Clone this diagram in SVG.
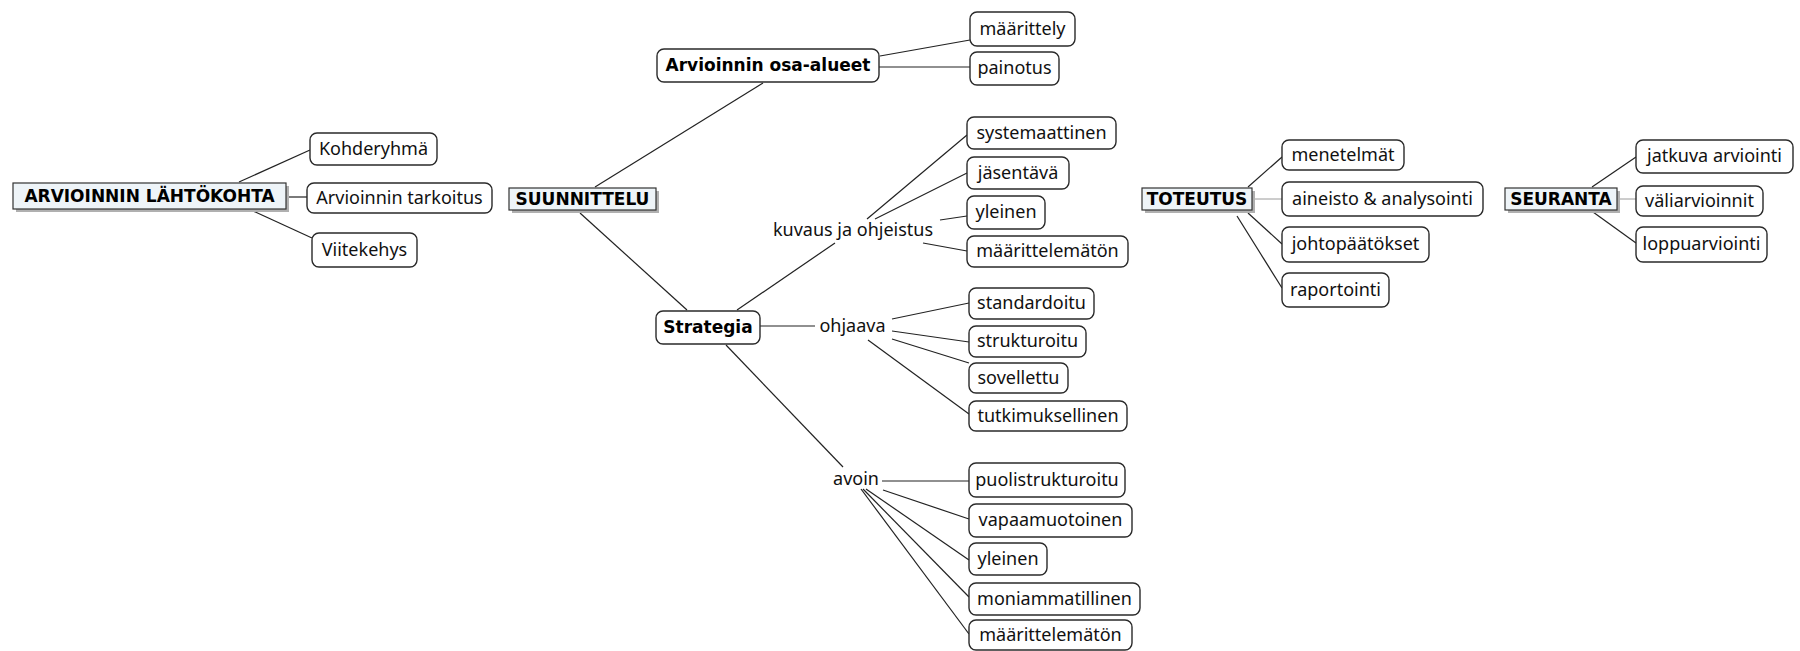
<svg xmlns="http://www.w3.org/2000/svg" width="1800" height="651" viewBox="0 0 1800 651">
<style>
.bg{fill:#ffffff}
.hd{fill:#eef4f8;stroke:#333333;stroke-width:1.2}
.sh{fill:#b0b0b0}
.bx{fill:#ffffff;stroke:#2a2a2a;stroke-width:1.4}
.ht{font-family:"DejaVu Sans",Verdana,sans-serif;font-weight:bold;font-size:17px;fill:#000000;text-anchor:middle}
.bt{font-family:"DejaVu Sans",Verdana,sans-serif;font-weight:bold;font-size:17px;fill:#000000;text-anchor:middle}
.lt{font-family:"Noto Sans","DejaVu Sans",sans-serif;font-size:18px;fill:#111111;text-anchor:middle}
.cn line{stroke:#222222;stroke-width:1.2}
.cn line.g{stroke:#9a9a9a;stroke-width:1}
</style>
<rect class="bg" x="0" y="0" width="1800" height="651"/>
<g id="connectors" class="cn">
<line x1="239" y1="182" x2="310" y2="150"/>
<line x1="286" y1="197" x2="307" y2="197"/>
<line x1="253" y1="211" x2="312" y2="238"/>
<line x1="595" y1="187" x2="763" y2="83"/>
<line x1="580" y1="213" x2="687" y2="310"/>
<line x1="880" y1="56" x2="970" y2="40"/>
<line x1="879" y1="67" x2="970" y2="67"/>
<line x1="737" y1="310" x2="835" y2="243"/>
<line x1="867" y1="219" x2="967" y2="135"/>
<line x1="875" y1="219" x2="967" y2="173"/>
<line x1="940" y1="220" x2="967" y2="216"/>
<line x1="923" y1="243" x2="967" y2="251"/>
<line x1="760" y1="326" x2="815" y2="326"/>
<line x1="892" y1="319" x2="969" y2="303"/>
<line x1="892" y1="331" x2="969" y2="342"/>
<line x1="892" y1="339" x2="969" y2="363"/>
<line x1="868" y1="340" x2="969" y2="414"/>
<line x1="726" y1="345" x2="843" y2="467"/>
<line x1="882" y1="481" x2="969" y2="481"/>
<line x1="883" y1="490" x2="969" y2="519"/>
<line x1="866" y1="489" x2="969" y2="560"/>
<line x1="863" y1="489" x2="969" y2="597"/>
<line x1="861" y1="489" x2="969" y2="634"/>
<line x1="1248" y1="187" x2="1282" y2="157"/>
<line class="g" x1="1255" y1="199" x2="1282" y2="199"/>
<line x1="1248" y1="213" x2="1282" y2="244"/>
<line x1="1237" y1="216" x2="1282" y2="288"/>
<line x1="1592" y1="187" x2="1636" y2="157"/>
<line class="g" x1="1620" y1="199" x2="1636" y2="199"/>
<line x1="1593" y1="212" x2="1636" y2="243"/>
</g>
<g id="arvioinnin-lahtokohta">
<rect class="sh" x="16" y="186" width="273" height="26"/>
<rect class="hd" x="13" y="183" width="273" height="26"/>
<text class="ht" x="149.5" y="202">ARVIOINNIN LÄHTÖKOHTA</text>
</g>
<g id="kohderyhma"><rect class="bx" x="310" y="133" width="127" height="32" rx="7"/><text class="lt" x="373.5" y="155">Kohderyhmä</text></g>
<g id="arvioinnin-tarkoitus"><rect class="bx" x="307" y="183" width="185" height="30" rx="7"/><text class="lt" x="399.5" y="204">Arvioinnin tarkoitus</text></g>
<g id="viitekehys"><rect class="bx" x="312" y="233" width="105" height="34" rx="7"/><text class="lt" x="364.5" y="256">Viitekehys</text></g>
<g id="suunnittelu">
<rect class="sh" x="512" y="191" width="147" height="22"/>
<rect class="hd" x="509" y="188" width="147" height="22"/>
<text class="ht" x="582.5" y="205">SUUNNITTELU</text>
</g>
<g id="arvioinnin-osa-alueet"><rect class="bx" x="657" y="49" width="222" height="33" rx="7"/><text class="bt" x="768" y="71">Arvioinnin osa-alueet</text></g>
<g id="maarittely"><rect class="bx" x="970" y="12" width="105" height="34" rx="7"/><text class="lt" x="1022.5" y="35">määrittely</text></g>
<g id="painotus"><rect class="bx" x="970" y="52" width="89" height="33" rx="7"/><text class="lt" x="1014.5" y="74">painotus</text></g>
<g id="strategia"><rect class="bx" x="656" y="311" width="104" height="33" rx="7"/><text class="bt" x="708" y="333">Strategia</text></g>
<g id="kuvaus-ja-ohjeistus"><text class="lt" x="853" y="236">kuvaus ja ohjeistus</text></g>
<g id="systemaattinen"><rect class="bx" x="967" y="117" width="149" height="32" rx="7"/><text class="lt" x="1041.5" y="139">systemaattinen</text></g>
<g id="jasentava"><rect class="bx" x="967" y="157" width="102" height="32" rx="7"/><text class="lt" x="1018" y="179">jäsentävä</text></g>
<g id="yleinen-1"><rect class="bx" x="967" y="196" width="78" height="33" rx="7"/><text class="lt" x="1006" y="218">yleinen</text></g>
<g id="maarittelematon-1"><rect class="bx" x="967" y="236" width="161" height="31" rx="7"/><text class="lt" x="1047.5" y="257">määrittelemätön</text></g>
<g id="ohjaava"><text class="lt" x="852.5" y="332">ohjaava</text></g>
<g id="standardoitu"><rect class="bx" x="969" y="288" width="125" height="31" rx="7"/><text class="lt" x="1031.5" y="309">standardoitu</text></g>
<g id="strukturoitu"><rect class="bx" x="969" y="326" width="117" height="31" rx="7"/><text class="lt" x="1027.5" y="347">strukturoitu</text></g>
<g id="sovellettu"><rect class="bx" x="969" y="363" width="99" height="30" rx="7"/><text class="lt" x="1018.5" y="384">sovellettu</text></g>
<g id="tutkimuksellinen"><rect class="bx" x="969" y="401" width="158" height="30" rx="7"/><text class="lt" x="1048" y="422">tutkimuksellinen</text></g>
<g id="avoin"><text class="lt" x="856" y="485">avoin</text></g>
<g id="puolistrukturoitu"><rect class="bx" x="969" y="463" width="156" height="34" rx="7"/><text class="lt" x="1047" y="486">puolistrukturoitu</text></g>
<g id="vapaamuotoinen"><rect class="bx" x="969" y="504" width="163" height="33" rx="7"/><text class="lt" x="1050.5" y="526">vapaamuotoinen</text></g>
<g id="yleinen-2"><rect class="bx" x="969" y="543" width="78" height="32" rx="7"/><text class="lt" x="1008" y="565">yleinen</text></g>
<g id="moniammatillinen"><rect class="bx" x="969" y="583" width="171" height="32" rx="7"/><text class="lt" x="1054.5" y="605">moniammatillinen</text></g>
<g id="maarittelematon-2"><rect class="bx" x="969" y="620" width="163" height="30" rx="7"/><text class="lt" x="1050.5" y="641">määrittelemätön</text></g>
<g id="toteutus">
<rect class="sh" x="1145" y="191" width="110" height="22"/>
<rect class="hd" x="1142" y="188" width="110" height="22"/>
<text class="ht" x="1197" y="205">TOTEUTUS</text>
</g>
<g id="menetelmat"><rect class="bx" x="1282" y="140" width="122" height="30" rx="7"/><text class="lt" x="1343" y="161">menetelmät</text></g>
<g id="aineisto-analysointi"><rect class="bx" x="1282" y="182" width="201" height="34" rx="7"/><text class="lt" x="1382.5" y="205">aineisto &amp; analysointi</text></g>
<g id="johtopaatokset"><rect class="bx" x="1282" y="227" width="147" height="35" rx="7"/><text class="lt" x="1355.5" y="250">johtopäätökset</text></g>
<g id="raportointi"><rect class="bx" x="1282" y="273" width="107" height="34" rx="7"/><text class="lt" x="1335.5" y="296">raportointi</text></g>
<g id="seuranta">
<rect class="sh" x="1508" y="191" width="112" height="22"/>
<rect class="hd" x="1505" y="188" width="112" height="22"/>
<text class="ht" x="1561" y="205">SEURANTA</text>
</g>
<g id="jatkuva-arviointi"><rect class="bx" x="1636" y="140" width="157" height="33" rx="7"/><text class="lt" x="1714.5" y="162">jatkuva arviointi</text></g>
<g id="valiarvioinnit"><rect class="bx" x="1636" y="186" width="127" height="30" rx="7"/><text class="lt" x="1699.5" y="207">väliarvioinnit</text></g>
<g id="loppuarviointi"><rect class="bx" x="1636" y="227" width="131" height="35" rx="7"/><text class="lt" x="1701.5" y="250">loppuarviointi</text></g>
</svg>
